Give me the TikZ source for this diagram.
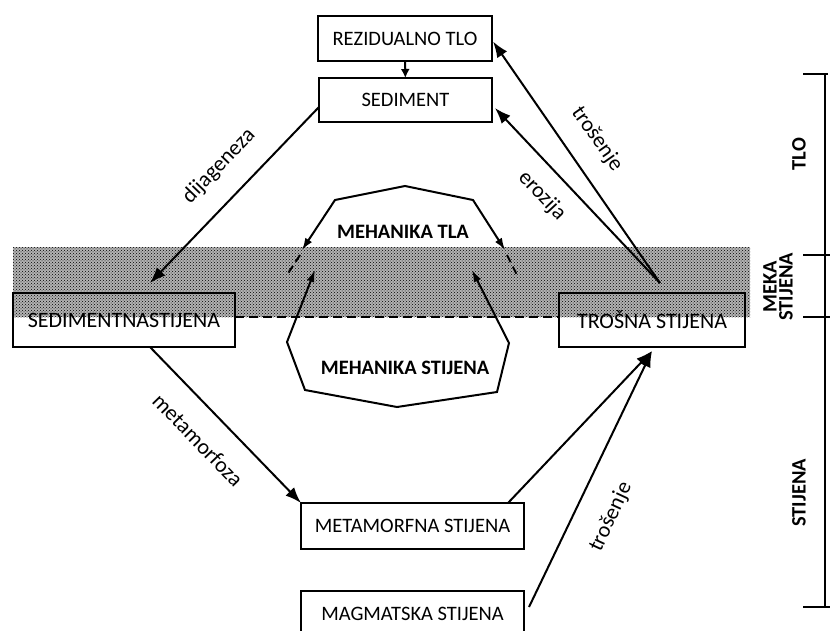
\documentclass[tikz,border=0pt]{standalone}
\usepackage{fontspec}
\setmainfont{Carlito}
\usetikzlibrary{arrows.meta,patterns}
\begin{document}
\begin{tikzpicture}[x=1pt,y=-1pt,
  box/.style={draw, line width=2.6pt, fill=white, inner sep=0pt, outer sep=0pt,
    font=\fontsize{20.5}{24}\selectfont},
  bigtext/.style={font=\fontsize{22}{26}\selectfont},
  conn/.style={line width=2pt, -{Latex[length=16pt,width=12pt]}},
  small/.style={line width=2pt, -{Latex[length=9pt,width=9pt]}},
  lbl/.style={font=\fontsize{22}{26}\selectfont, inner sep=0pt},
  blbl/.style={font=\bfseries\fontsize{20.5}{16}\selectfont, inner sep=0pt},
  poly/.style={line width=2pt, line join=miter},
  polyarr/.style={poly, {Latex[length=12pt,width=8pt]}-{Latex[length=12pt,width=8pt]}},
  dsh/.style={line width=2pt, dash pattern=on 8pt off 5pt},
  scl/.style={line width=2pt},
]
\useasboundingbox (0,0) rectangle (830,630);
\clip (0,0) rectangle (830,630);

% boxes
\node[box, minimum width=174pt, minimum height=45pt] (rez) at (405,38.5) {REZIDUALNO TLO};
\node[box, minimum width=173pt, minimum height=44pt] (sed) at (405.5,100) {SEDIMENT};
\node[box, bigtext, minimum width=222pt, minimum height=54pt] (sst) at (124,320) {SEDIMENTNASTIJENA};
\node[box, bigtext, minimum width=186pt, minimum height=54pt] (tro) at (652,320) {TROŠNA STIJENA};
\node[box, minimum width=223pt, minimum height=46pt] (met) at (412.5,526) {METAMORFNA STIJENA};
\node[box, minimum width=223pt, minimum height=46pt] (mag) at (412.5,614) {MAGMATSKA STIJENA};

% band
\coordinate (bandTL) at (13,247);
\coordinate (bandBR) at (750,317);
\fill[black, fill opacity=0.3] (bandTL) rectangle (bandBR);
\fill[pattern=crosshatch dots, pattern color=black] (bandTL) rectangle (bandBR);
\draw[line width=2.6pt] (sst.north west) rectangle (sst.south east);
\draw[line width=2.6pt] (tro.north west) rectangle (tro.south east);
\draw[line width=2pt, dash pattern=on 9pt off 5pt] (sst.east |- bandBR) -- (tro.west |- bandBR);

% connectors
\coordinate (dijEnd) at (150,283);
\coordinate (troTop) at (660,283);
\draw[small] (rez) -- (sed);
\draw[conn] ([yshift=-7pt]sed.west) -- (dijEnd);
\draw[conn] (troTop) -- ([xshift=3pt,yshift=-8pt]sed.east);
\draw[conn] (troTop) -- ([xshift=1pt,yshift=-3pt]rez.east);
\draw[conn] ([xshift=26pt]sst.south) -- (met.north west);
\draw[conn] ([xshift=-16pt]met.north east) -- ([yshift=-4pt]tro.south);
\draw[conn] ([xshift=5pt,yshift=7pt]mag.east) -- ([yshift=-4pt]tro.south);

% connector labels
\node[lbl, rotate=46] (ldij) at (219,166) {dijageneza};
\node[lbl, rotate=-55] (ltr1) at (597,139) {trošenje};
\node[lbl, rotate=-47] (lero) at (542,196) {erozija};
\node[lbl, rotate=-46] (lmet) at (198,440) {metamorfoza};
\node[lbl, rotate=65] (ltr2) at (611,517) {trošenje};

% mechanics polygons
\draw[polyarr] (302,250) -- (335,200) -- (405,186) -- (473,200) -- (505,250);
\draw[dsh] (300,255) -- (287,275);
\draw[dsh] (507,255) -- (518,277);
\draw[polyarr] (315,270) -- (287,342) -- (305,390) -- (397,407) -- (497,392) -- (509,343) -- (472,270);
\node[blbl] (mtla) at (403,232) {MEHANIKA TLA};
\node[blbl] (mst) at (405,368) {MEHANIKA STIJENA};

% right scale
\draw[scl] (825,74) -- (825,607);
\draw[scl] (803,74) -- (828,74);
\draw[scl] (803,255) -- (830,255);
\draw[scl] (803,317) -- (830,317);
\draw[scl] (803,607) -- (830,607);
\node[blbl, rotate=90] (stlo) at (799,154) {TLO};
\node[blbl, rotate=90, align=center] (smeka) at (778,287) {MEKA\\STIJENA};
\node[blbl, rotate=90] (sstij) at (799,493) {STIJENA};
\end{tikzpicture}
\end{document}
